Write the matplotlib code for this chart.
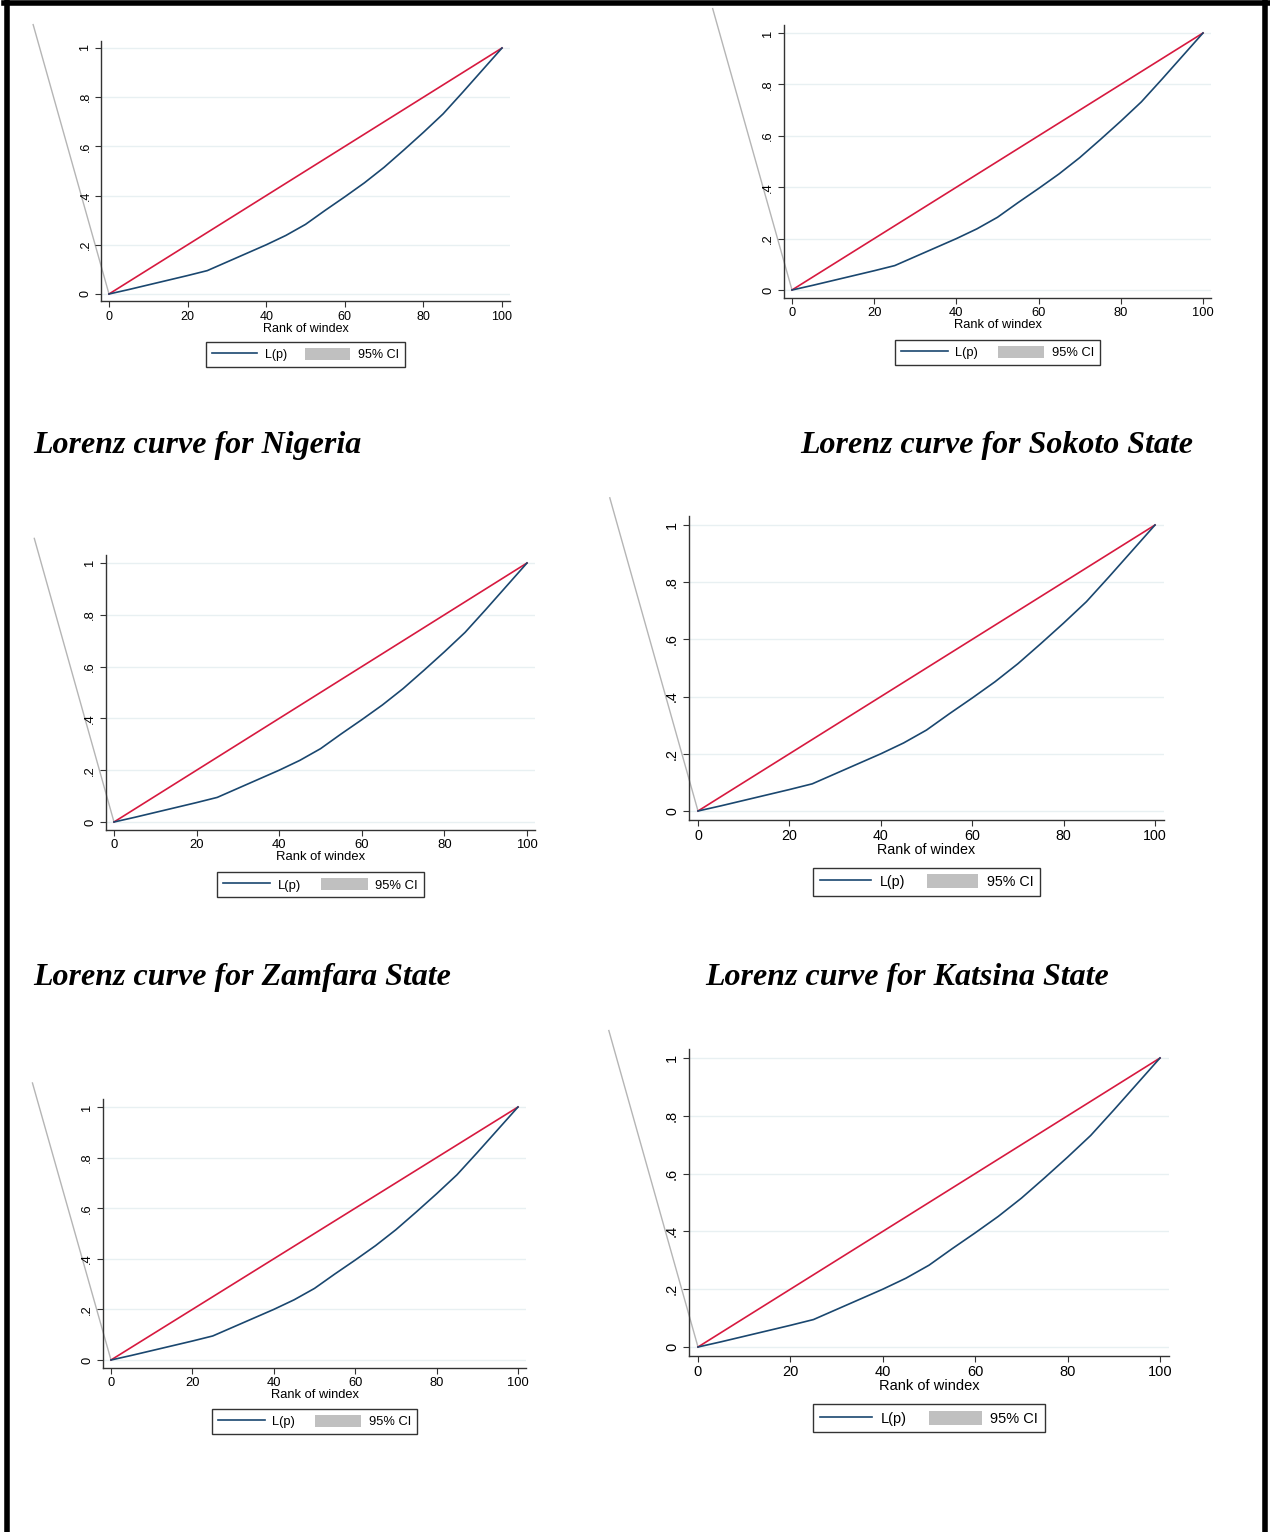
import numpy as np
import matplotlib
matplotlib.use('Agg')
import matplotlib.pyplot as plt
from matplotlib.lines import Line2D
from matplotlib.patches import Patch

# Lorenz curve L(p) (they are nearly identical)
rank = [0, 5, 10, 15, 20, 25, 30, 35, 40, 45, 50, 55, 60, 65, 70, 75, 80, 85, 90, 95, 100]
lorenz = [0, 0.018, 0.037, 0.056, 0.075, 0.095, 0.13, 0.165, 0.2, 0.238, 0.283,
          0.34, 0.395, 0.452, 0.515, 0.585, 0.657, 0.732, 0.82, 0.91, 1.0]
equality_x = [0, 100]
equality_y = [0, 1]
# stray edge of the 95% CI area that runs out of the plot region
ci_edge_x = [-19.3, 0]
ci_edge_y = [1.095, 0]

yticks = [0, 0.2, 0.4, 0.6, 0.8, 1]
ytick_labels = ['0', '.2', '.4', '.6', '.8', '1']
xticks = [0, 20, 40, 60, 80, 100]

titles = ['Lorenz curve for Nigeria', 'Lorenz curve for Sokoto State',
          'Lorenz curve for Zamfara State', 'Lorenz curve for Katsina State']

NAVY = '#1a476f'
RED = '#d7193f'
GRID = '#e8f0f2'
CI_GRAY = '#c0c0c0'

W, H = 1270, 1532
XLIM = (-2, 102)
YLIM = (-0.03, 1.03)

fig = plt.figure(figsize=(W / 100, H / 100), dpi=100)
plt.rcParams['font.family'] = ['Liberation Sans', 'DejaVu Sans']


# make one Stata-like lorenz panel; px = pixel spots of x=0, x=100, y=0, y=1
def lorenz_panel(px, fsize, legend_top):
    x0, x100, y0, y1 = px
    sx = (x100 - x0) / 100.0
    sy = (y0 - y1) / 1.0
    left = x0 + XLIM[0] * sx
    right = x0 + XLIM[1] * sx
    top = y0 - YLIM[1] * sy
    bottom = y0 - YLIM[0] * sy
    ax = fig.add_axes([left / W, 1 - bottom / H, (right - left) / W, (bottom - top) / H])
    ax.set_xlim(*XLIM)
    ax.set_ylim(*YLIM)

    for y in yticks:
        ax.axhline(y, color=GRID, lw=1, zorder=0)
    ax.plot(ci_edge_x, ci_edge_y, color='#b5b5b5', lw=1, clip_on=False, zorder=1)
    ax.plot(equality_x, equality_y, color=RED, lw=1.2, zorder=2)
    ax.plot(rank, lorenz, color=NAVY, lw=1.2, zorder=3)

    for s in ['top', 'right']:
        ax.spines[s].set_visible(False)
    for s in ['left', 'bottom']:
        ax.spines[s].set_color('#333333')
        ax.spines[s].set_linewidth(1.0)

    ax.set_xticks(xticks)
    ax.set_yticks(yticks)
    ax.set_yticklabels(ytick_labels, rotation=90, va='center')
    ax.tick_params(axis='both', direction='out', length=4, width=0.8,
                   color='#333333', labelsize=fsize, pad=3)
    ax.set_xlabel('Rank of windex', fontsize=fsize, labelpad=0)

    handles = [Line2D([0], [0], color=NAVY, lw=1.2), Patch(facecolor=CI_GRAY, edgecolor='none')]
    off = (legend_top - bottom) / (bottom - top)
    leg = ax.legend(handles, ['L(p)', '95% CI'], ncol=2, loc='upper center',
                    bbox_to_anchor=(0.5, -off), fontsize=fsize, frameon=True,
                    fancybox=False, handlelength=3.6, handleheight=1.1,
                    columnspacing=1.5, handletextpad=0.6, borderpad=0.45,
                    borderaxespad=0)
    leg.get_frame().set_edgecolor('black')
    leg.get_frame().set_linewidth(1.0)
    return ax


lorenz_panel((109, 502, 294, 48), 9, 342)
lorenz_panel((792, 1203, 290, 33), 9.3, 340)
lorenz_panel((114, 527, 822, 563), 9.4, 872)
lorenz_panel((698, 1155, 811, 525), 10.3, 868)
lorenz_panel((111, 518, 1360, 1107), 9.3, 1409)
lorenz_panel((698, 1160, 1347, 1058), 10.5, 1404)

title_spots = [(33, 446), (800, 446), (33, 978), (705, 978)]
for t, (tx, ty) in zip(titles, title_spots):
    fig.text(tx / W, 1 - ty / H, t, fontsize=23, fontweight='bold', fontstyle='italic',
             family=['Liberation Serif', 'DejaVu Serif'], ha='left', va='center')

# black page border (left, top, right)
for xs, ys in [([6.5, 6.5], [0, H]), ([4, 1268], [3, 3]), ([1265, 1265], [0, H])]:
    fig.add_artist(Line2D([x / W for x in xs], [1 - y / H for y in ys], color='black', lw=4))

fig.savefig('out.png', dpi=100)
